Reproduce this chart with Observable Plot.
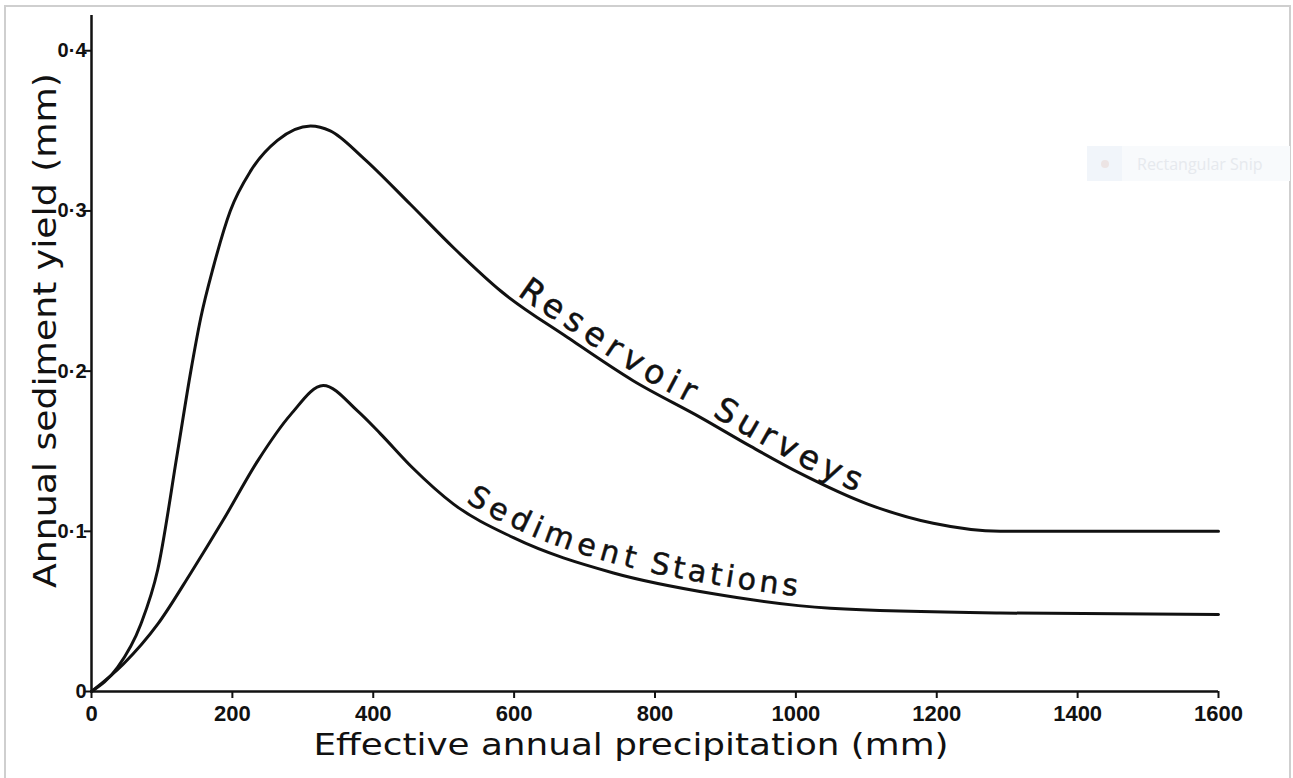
<!DOCTYPE html>
<html>
<head>
<meta charset="utf-8">
<script src="https://cdn.jsdelivr.net/npm/d3@7"></script>
<script src="https://cdn.jsdelivr.net/npm/@observablehq/plot@0.6"></script>
<style>
  html, body { margin: 0; padding: 0; background: #fff; }
  #wrap { position: relative; width: 1293px; height: 778px; overflow: hidden; }
  #border { position: absolute; left: 4px; top: 5px; width: 1287px; height: 790px; border: 2px solid #cfcfcf; box-sizing: border-box; pointer-events: none; }
  #snip { position: absolute; left: 1087px; top: 146px; width: 203px; height: 35px; background: #f8fafc; display: flex; align-items: center; font: 16px "Open Sans", sans-serif; color: #e6e9ee; }
  #snip .ico { width: 35px; height: 35px; background: #f1f5fa; display: flex; align-items: center; justify-content: center; margin-right: 15px; }
  #snip .dot { width: 8px; height: 8px; border-radius: 50%; background: #ece4e4; }
</style>
</head>
<body>
<div id="wrap">
  <div id="chart"></div>
  <div id="border"></div>
  <div id="snip"><div class="ico"><div class="dot"></div></div><span>Rectangular Snip</span></div>
</div>
<script>
// ---- data ----
const precipReservoir = [0, 37, 70, 94, 122, 141, 155, 173, 197, 226, 264, 311, 339, 386, 453, 514, 581, 676, 769, 865, 936, 1007, 1102, 1195, 1290, 1600];
const yieldReservoir  = [0, 0.015, 0.042, 0.076, 0.149, 0.200, 0.233, 0.265, 0.300, 0.325, 0.344, 0.353, 0.350, 0.333, 0.304, 0.277, 0.250, 0.221, 0.194, 0.171, 0.153, 0.136, 0.117, 0.105, 0.100, 0.100];
const precipSediment  = [0, 45, 94, 141, 187, 236, 283, 329, 378, 410, 455, 514, 599, 741, 883, 1049, 1290, 1600];
const yieldSediment   = [0, 0.017, 0.042, 0.074, 0.107, 0.144, 0.173, 0.191, 0.175, 0.161, 0.140, 0.117, 0.096, 0.074, 0.061, 0.052, 0.049, 0.048];
const seriesNames = ["Reservoir Surveys", "Sediment Stations"];
const xTicks = [0, 200, 400, 600, 800, 1000, 1200, 1400, 1600];
const xTickLabels = ["0", "200", "400", "600", "800", "1000", "1200", "1400", "1600"];
const yTicks = [0, 0.1, 0.2, 0.3, 0.4];
const yTickLabels = ["0", "0·1", "0·2", "0·3", "0·4"];
const xTitle = "Effective annual precipitation (mm)";
const yTitle = "Annual sediment yield (mm)";

const reservoir = precipReservoir.map((x, i) => ({x, y: yieldReservoir[i]}));
const sediment = precipSediment.map((x, i) => ({x, y: yieldSediment[i]}));

const ink = "#111";
const chart = Plot.plot({
  width: 1293,
  height: 778,
  marginLeft: 91,
  marginRight: 75,
  marginTop: 15,
  marginBottom: 87,
  style: {fontFamily: "'Liberation Sans', sans-serif", color: ink, background: "transparent", overflow: "visible"},
  x: {domain: [0, 1600]},
  y: {domain: [0, 0.422]},
  marks: [
    Plot.axisX(xTicks, {tickSize: 7, tickPadding: 7, strokeWidth: 2, fontSize: 22, fontWeight: "bold",
      tickFormat: d => xTickLabels[xTicks.indexOf(d)], label: null}),
    Plot.axisY(yTicks, {tickSize: 7, tickPadding: -2, strokeWidth: 2, fontSize: 20, fontWeight: "bold",
      tickFormat: d => yTickLabels[yTicks.indexOf(d)], label: null}),
    Plot.ruleY([0], {stroke: ink, strokeWidth: 2.5}),
    Plot.ruleX([0], {stroke: ink, strokeWidth: 2.5}),
    Plot.line(reservoir, {x: "x", y: "y", curve: "monotone-x", stroke: ink, strokeWidth: 3}),
    Plot.line(sediment, {x: "x", y: "y", curve: "monotone-x", stroke: ink, strokeWidth: 3}),
    Plot.text([xTitle], {text: d => d, frameAnchor: "bottom", dx: -24, dy: 54, lineAnchor: "middle", textAnchor: "middle",
      fontSize: 31, fontFamily: "DejaVu Sans", fill: ink}),
    Plot.text([yTitle], {text: d => d, frameAnchor: "left", rotate: -90, dx: -46, dy: -23, lineAnchor: "middle", textAnchor: "middle",
      fontSize: 32, fontFamily: "DejaVu Sans", fill: ink})
  ]
});
document.getElementById("chart").appendChild(chart);

const svg = d3.select(chart);
const titleTexts = svg.selectAll("g[aria-label='text'] text").nodes();
if (titleTexts[0]) d3.select(titleTexts[0]).attr("textLength", 635).attr("lengthAdjust", "spacingAndGlyphs");
if (titleTexts[1]) d3.select(titleTexts[1]).attr("textLength", 515).attr("lengthAdjust", "spacingAndGlyphs");

// curve labels written word by word along the drawn curves
const xScale = chart.scale("x");
const linePaths = svg.selectAll("g[aria-label='line'] path").nodes();
function lengthAtX(path, px) {
  const total = path.getTotalLength();
  for (let l = 0; l <= total; l += 0.5) {
    if (path.getPointAtLength(l).x >= px) return l;
  }
  return total;
}
function curveLabel(path, id, label, spans, size, lift) {
  if (!path) return;
  path.setAttribute("id", id);
  const words = label.split(" ");
  words.forEach((word, k) => {
    const [fromMM, toMM] = spans[k];
    const a = lengthAtX(path, xScale.apply(fromMM));
    const b = lengthAtX(path, xScale.apply(toMM));
    svg.append("text")
      .attr("font-family", "DejaVu Sans")
      .attr("font-size", size)
      .attr("text-anchor", "start")
      .attr("fill", ink)
      .attr("stroke", ink)
      .attr("stroke-width", 0.5)
      .append("textPath")
      .attr("href", "#" + id)
      .attr("startOffset", a)
      .append("tspan")
      .attr("dy", -lift)
      .attr("textLength", b - a)
      .attr("lengthAdjust", "spacing")
      .text(word);
  });
}
curveLabel(linePaths[0], "res-path", seriesNames[0], [[598, 845], [876, 1082]], 33, 7);
curveLabel(linePaths[1], "sed-path", seriesNames[1], [[525, 766], [789, 1000]], 30, 9);
</script>
</body>
</html>
